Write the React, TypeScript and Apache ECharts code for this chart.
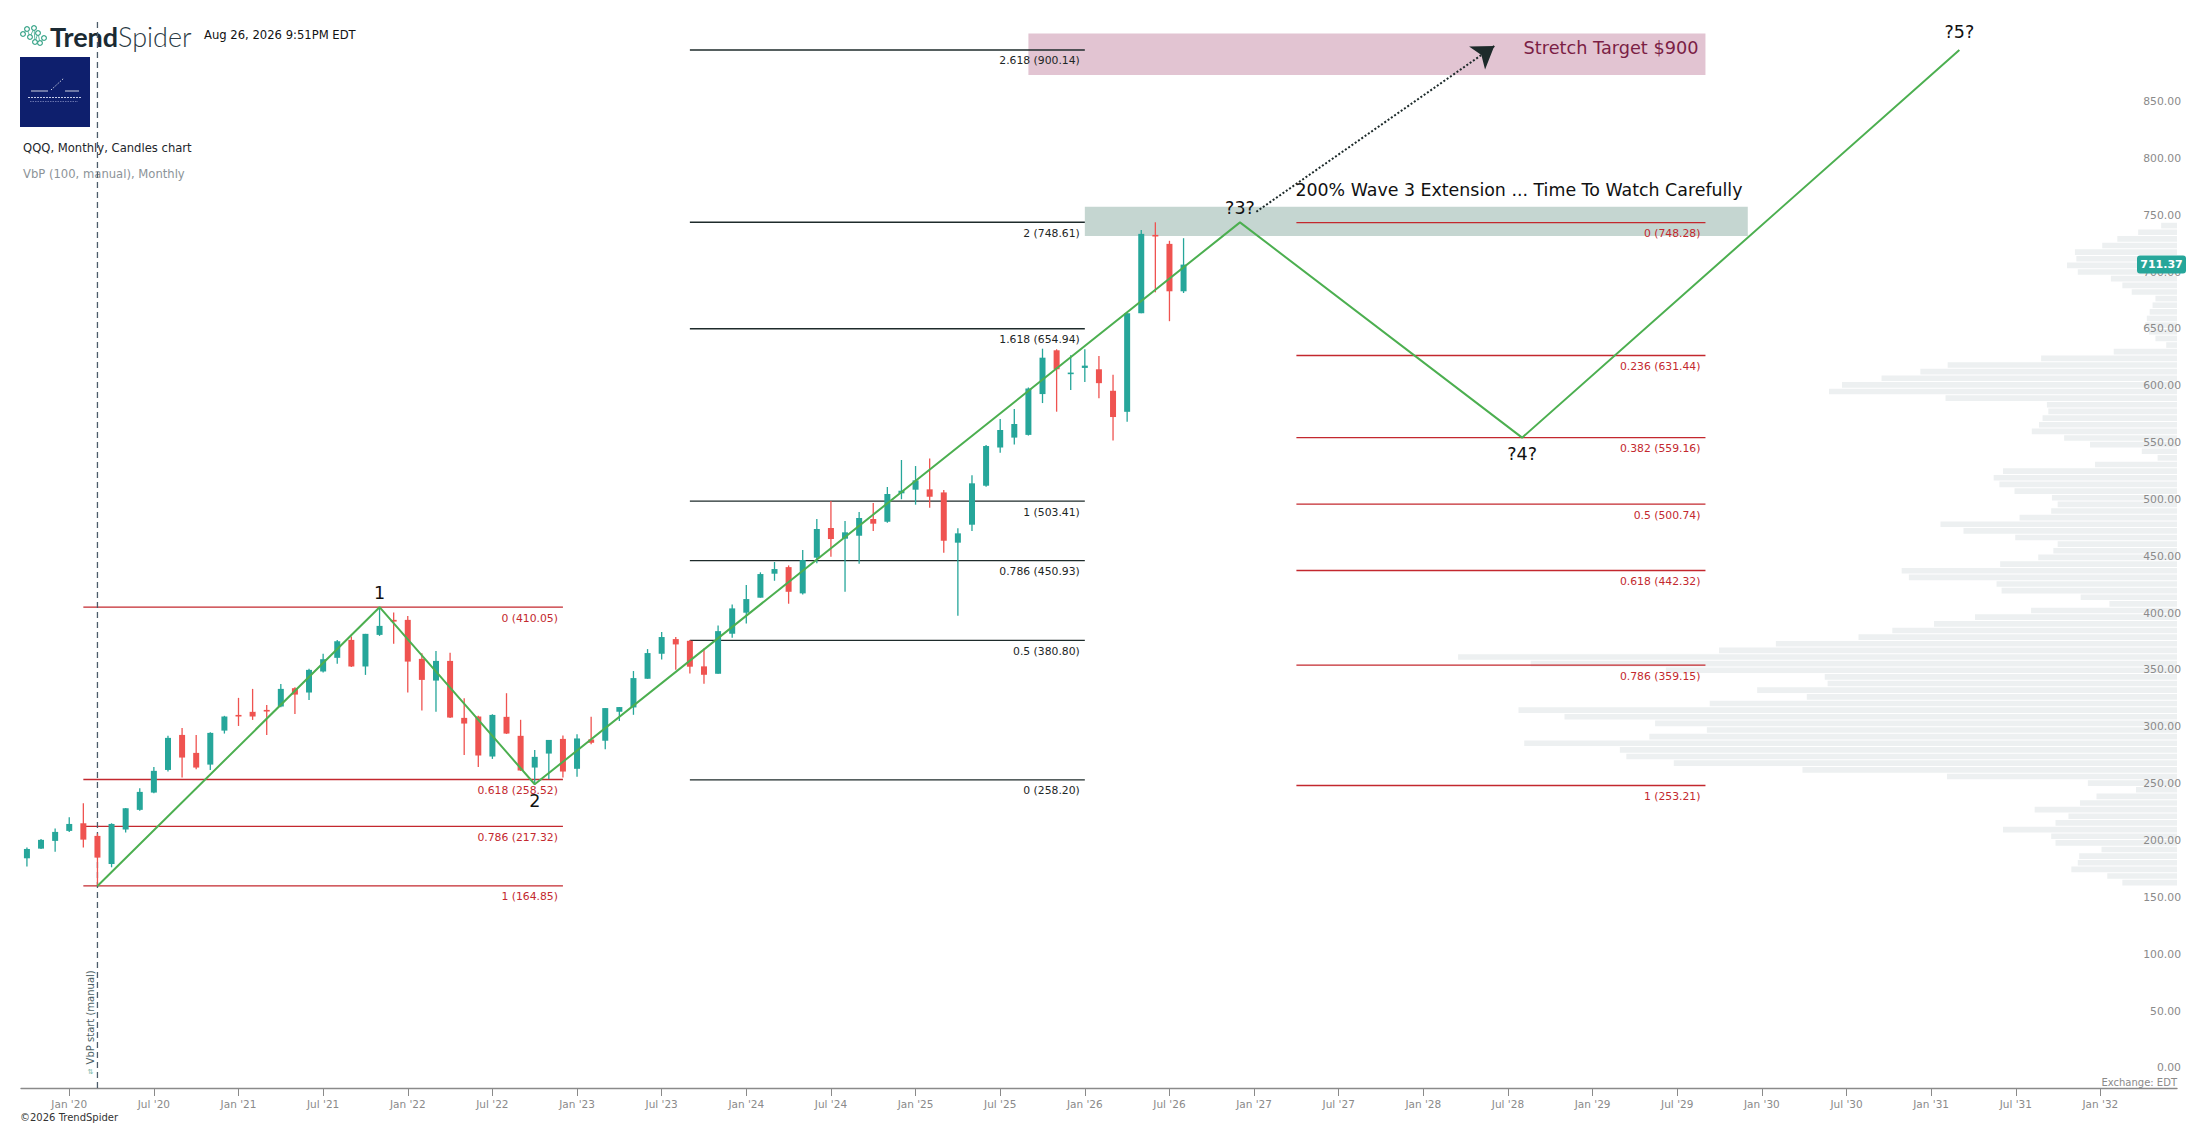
import React, { useEffect, useRef } from "react";
import * as echarts from "echarts";

// ---------- DATA ----------
// month index: 0 = Jan 2020 ; first candle = Oct 2019
const firstMonth = -3;
const opens = [189.2, 197.7, 204.5, 213.3, 220.0, 208.9, 184.2, 214.5, 231.8, 247.0, 266.9, 297.7, 281.9, 271.6, 301.5, 315.3, 318.0, 319.7, 322.7, 338.8, 335.0, 353.5, 365.5, 381.3, 357.9, 385.7, 398.9, 398.9, 364.6, 345.5, 362.8, 312.7, 313.9, 278.7, 313.6, 296.9, 269.0, 281.3, 294.2, 267.9, 293.7, 292.6, 318.1, 321.9, 347.1, 369.1, 382.0, 380.5, 358.0, 351.5, 386.7, 405.2, 418.4, 439.5, 445.3, 422.2, 453.6, 479.7, 470.3, 472.9, 487.6, 485.2, 510.2, 513.4, 513.7, 511.0, 466.8, 482.6, 516.9, 550.5, 559.2, 561.6, 597.5, 636.0, 615.0, 620.5, 619.3, 600.4, 581.9, 668.6, 737.5, 729.6, 687.9];
const highs = [198.6, 206.2, 215.3, 225.3, 237.6, 211.0, 220.0, 233.5, 250.8, 269.6, 296.9, 303.9, 297.7, 300.0, 314.5, 330.3, 338.2, 324.1, 342.6, 339.7, 355.8, 369.0, 381.3, 384.2, 386.6, 410.05, 405.4, 402.4, 369.6, 371.6, 369.9, 330.0, 314.5, 315.9, 334.4, 311.0, 284.5, 293.3, 297.1, 298.4, 313.7, 321.3, 322.2, 353.9, 373.2, 388.2, 383.8, 381.1, 373.8, 394.0, 412.5, 429.5, 440.7, 449.8, 446.8, 460.3, 487.6, 503.4, 485.8, 493.7, 501.7, 515.7, 539.5, 534.2, 540.9, 513.1, 479.4, 526.0, 552.7, 575.6, 584.3, 603.3, 637.4, 636.9, 631.6, 636.9, 631.0, 614.4, 668.6, 741.9, 748.6, 732.3, 734.6];
const lows = [181.9, 197.4, 195.0, 212.4, 198.6, 164.85, 181.3, 211.8, 231.0, 246.5, 265.5, 260.2, 267.5, 266.9, 298.9, 305.6, 310.9, 297.7, 322.1, 316.2, 328.5, 352.6, 360.2, 357.5, 350.5, 384.8, 377.8, 335.0, 319.1, 318.0, 312.5, 280.1, 269.6, 276.6, 298.5, 266.0, 254.3, 259.0, 260.2, 260.9, 289.6, 285.2, 309.9, 315.4, 347.1, 364.1, 355.0, 351.8, 342.7, 351.5, 383.2, 395.8, 418.4, 433.3, 413.1, 421.3, 448.6, 454.4, 423.6, 448.3, 477.0, 484.4, 505.0, 500.2, 497.5, 458.0, 402.5, 477.0, 516.0, 545.8, 553.1, 561.0, 589.6, 582.0, 601.0, 608.2, 593.9, 556.6, 573.2, 668.6, 687.0, 661.6, 686.4];
const closes = [197.4, 205.4, 212.4, 219.4, 205.6, 189.8, 219.4, 233.2, 247.6, 266.1, 295.1, 277.8, 269.0, 299.5, 313.9, 313.9, 313.9, 318.3, 338.2, 333.2, 354.9, 364.3, 380.1, 357.9, 386.6, 393.6, 397.4, 362.2, 346.1, 362.8, 313.0, 307.7, 279.6, 315.3, 298.9, 266.4, 278.4, 293.3, 265.5, 294.6, 290.8, 321.3, 322.2, 347.7, 369.7, 383.8, 377.3, 357.7, 350.6, 389.0, 409.0, 417.2, 439.2, 443.6, 423.6, 451.5, 478.8, 470.0, 475.9, 488.5, 483.5, 509.6, 512.5, 521.6, 507.2, 468.5, 475.0, 519.0, 551.8, 565.9, 571.2, 602.4, 629.5, 619.3, 616.4, 622.5, 607.1, 577.3, 668.6, 738.4, 736.1, 687.9, 711.37];

// x tick labels (every 6 months)
const tickMonths = [0, 6, 12, 18, 24, 30, 36, 42, 48, 54, 60, 66, 72, 78, 84, 90, 96, 102, 108, 114, 120, 126, 132, 138, 144];
const tickLabels = ["Jan '20", "Jul '20", "Jan '21", "Jul '21", "Jan '22", "Jul '22", "Jan '23", "Jul '23", "Jan '24", "Jul '24", "Jan '25", "Jul '25", "Jan '26", "Jul '26", "Jan '27", "Jul '27", "Jan '28", "Jul '28", "Jan '29", "Jul '29", "Jan '30", "Jul '30", "Jan '31", "Jul '31", "Jan '32"];
const priceTicks = [0, 50, 100, 150, 200, 250, 300, 350, 400, 450, 500, 550, 600, 650, 700, 750, 800, 850];

// Fibonacci groups
const fibAStart = 1, fibAEnd = 35;
const fibAValues = [410.05, 258.52, 217.32, 164.85];
const fibALabels = ["0 (410.05)", "0.618 (258.52)", "0.786 (217.32)", "1 (164.85)"];
const fibBStart = 44, fibBEnd = 72;
const fibBValues = [258.2, 380.8, 450.93, 503.41, 654.94, 748.61, 900.14];
const fibBLabels = ["0 (258.20)", "0.5 (380.80)", "0.786 (450.93)", "1 (503.41)", "1.618 (654.94)", "2 (748.61)", "2.618 (900.14)"];
const fibCStart = 87, fibCEnd = 116;
const fibCValues = [748.28, 631.44, 559.16, 500.74, 442.32, 359.15, 253.21];
const fibCLabels = ["0 (748.28)", "0.236 (631.44)", "0.382 (559.16)", "0.5 (500.74)", "0.618 (442.32)", "0.786 (359.15)", "1 (253.21)"];

// Elliott wave path
const waveMonths = [2, 22, 33, 83, 103, 134];
const waveValues = [164.85, 410.05, 254.3, 748.5, 559.16, 900.14];
const waveLabels = ["", "1", "2", "?3?", "?4?", "?5?"];

// zones [startMonth, endMonth, low, high]
const zoneStretch = [68, 116, 878.1, 914.7];
const zoneWave3 = [72, 119, 736.5, 762.3];

// arrow (month, price)
const arrowFrom = [84.16, 757.9];
const arrowTo = [101.03, 903.6];

// notes
const noteTexts = ["200% Wave 3 Extension ... Time To Watch Carefully", "Stretch Target $900"];
const noteMonths = [86.93, 115.5];
const noteValues = [777.0, 901.6];

// VbP start
const vbpStartMonth = 2;
const vbpLow = 164.85;
const vbpHigh = 748.61;
// relative volume per price bin (100 bins, low -> high), % of max
const vbpVolumes = [7.6, 9.7, 14.7, 13.8, 13.6, 10.5, 16.9, 17.5, 24.2, 16.9, 15.1, 19.8, 13.5, 11.2, 5.7, 12.4, 32.0, 52.1, 70.0, 76.6, 77.5, 90.8, 73.4, 65.4, 72.6, 85.2, 91.6, 65.0, 51.5, 58.4, 48.6, 49.0, 71.1, 89.9, 100, 63.7, 55.8, 44.3, 39.6, 33.8, 28.1, 20.3, 9.4, 13.4, 24.4, 25.1, 37.3, 38.3, 24.6, 19.3, 17.2, 16.6, 22.5, 29.7, 32.9, 21.9, 17.5, 16.6, 17.4, 22.6, 24.7, 25.5, 24.2, 11.4, 2.7, 4.9, 12.1, 15.7, 20.2, 19.2, 18.7, 17.9, 18.1, 32.2, 48.4, 46.6, 41.1, 35.7, 31.9, 18.9, 8.8, 1.5, 3.0, 3.9, 4.4, 4.2, 3.8, 3.4, 3.0, 6.3, 7.6, 9.2, 13.8, 15.3, 14.0, 14.2, 10.4, 8.3, 5.4, 2.2];

const lastPrice = 711.37;

// ---------- STYLE ----------
const GREEN = "#26a69a";
const RED = "#ef5350";
const FIB_RED = "#c3282e";
const FIB_DARK = "#1e2b2b";
const FONT = '"DejaVu Sans", sans-serif';

const X_MIN = -3.42, X_MAX = 149.43, Y_MIN = -12.84, Y_MAX = 944.1;

function fibSeries(start: number, end: number, values: number[], labels: string[], color: string, textColor: string) {
  return {
    type: "custom",
    xAxisIndex: 0,
    yAxisIndex: 0,
    z: 3,
    silent: true,
    data: values.map((v) => [start, end, v]),
    renderItem: (params: any, api: any) => {
      const p0 = api.coord([api.value(0), api.value(2)]);
      const p1 = api.coord([api.value(1), api.value(2)]);
      return {
        type: "group",
        children: [
          { type: "line", shape: { x1: p0[0], y1: p0[1], x2: p1[0], y2: p1[1] }, style: { stroke: color, lineWidth: 1.3 } },
          {
            type: "text",
            x: p1[0] - 5,
            y: p1[1] + 11,
            style: { text: labels[params.dataIndex], fill: textColor, fontSize: 10.8, fontFamily: FONT, align: "right", verticalAlign: "middle" },
          },
        ],
      };
    },
  };
}

export default function App() {
  const ref = useRef<HTMLDivElement>(null);

  useEffect(() => {
    document.body.style.margin = "0";
    const chart = echarts.init(ref.current!, null, { renderer: "svg" });

    const candleData = closes.map((c, i) => [firstMonth + i, opens[i], c, lows[i], highs[i]]);
    const step = (vbpHigh - vbpLow) / vbpVolumes.length;
    const volMax = 2156 / 7.189;

    const logoNodes = [[23, 34], [27, 29], [30, 37], [34, 28], [35, 42], [38, 33], [40, 43], [44, 38]];

    const option: any = {
      animation: false,
      backgroundColor: "#ffffff",
      grid: { left: 21, right: 30, top: 0, bottom: 46 },
      xAxis: [
        {
          type: "value",
          min: X_MIN,
          max: X_MAX,
          position: "bottom",
          splitLine: { show: false },
          axisLine: { onZero: false, lineStyle: { color: "#8a8a8a", width: 1.4 } },
          axisTick: { show: true, customValues: tickMonths, length: 8, lineStyle: { color: "#8a8a8a" } },
          axisLabel: {
            customValues: tickMonths,
            formatter: (v: number) => tickLabels[tickMonths.indexOf(Math.round(v))] || "",
            color: "#8a8a8a",
            fontSize: 10.5,
            fontFamily: FONT,
            margin: 10,
          },
        },
        { type: "value", min: 0, max: volMax, inverse: true, show: false },
      ],
      yAxis: [
        {
          type: "value",
          min: Y_MIN,
          max: Y_MAX,
          position: "right",
          z: 4,
          splitLine: { show: false },
          axisLine: { show: false },
          axisTick: { show: false },
          axisLabel: {
            inside: true,
            margin: -4,
            customValues: priceTicks,
            formatter: (v: number) => v.toFixed(2),
            color: "#8a8a8a",
            fontSize: 10.8,
            fontFamily: FONT,
            verticalAlign: "bottom",
          },
        },
      ],
      graphic: [
        // TrendSpider logo nodes
        ...logoNodes.slice(0, -1).map((n, i) => ({
          type: "line",
          shape: { x1: n[0], y1: n[1], x2: logoNodes[i + 1][0], y2: logoNodes[i + 1][1] },
          style: { stroke: "#3aa58a", lineWidth: 0.8 },
        })),
        ...logoNodes.map((n) => ({ type: "circle", shape: { cx: n[0], cy: n[1], r: 2.4 }, style: { fill: "#fff", stroke: "#3aa58a", lineWidth: 1.2 } })),
        {
          type: "text",
          x: 50,
          y: 36,
          style: {
            text: "{a|Trend}{b|Spider}",
            verticalAlign: "middle",
            rich: {
              a: { fontSize: 27, fontWeight: "bold", fill: "#1b2a33", fontFamily: "Lato, sans-serif" },
              b: { fontSize: 27, fontWeight: 300, fill: "#2a3a44", fontFamily: "Lato, sans-serif" },
            },
          },
        },
        { type: "text", x: 204, y: 35, style: { text: "Aug 26, 2026 9:51PM EDT", fill: "#111", fontSize: 11.6, fontFamily: FONT, verticalAlign: "middle" } },
        // blue avatar
        { type: "rect", shape: { x: 20, y: 57, width: 70, height: 70 }, style: { fill: "#0e1f6d" } },
        { type: "line", shape: { x1: 31, y1: 91, x2: 48, y2: 91 }, style: { stroke: "#fff", lineWidth: 0.8 } },
        { type: "line", shape: { x1: 65, y1: 91, x2: 79, y2: 91 }, style: { stroke: "#fff", lineWidth: 0.8 } },
        { type: "line", shape: { x1: 51, y1: 90, x2: 64, y2: 78 }, style: { stroke: "#fff", lineWidth: 0.8, lineDash: [1.5, 1.5] } },
        { type: "line", shape: { x1: 28, y1: 97.5, x2: 82, y2: 97.5 }, style: { stroke: "#c8cde8", lineWidth: 1, lineDash: [2, 1] } },
        { type: "line", shape: { x1: 30, y1: 101.5, x2: 78, y2: 101.5 }, style: { stroke: "#8e97c8", lineWidth: 0.7, lineDash: [1.5, 1] } },
        { type: "text", x: 23, y: 148, style: { text: "QQQ, Monthly, Candles chart", fill: "#1d262b", fontSize: 11.6, fontFamily: FONT, verticalAlign: "middle" } },
        { type: "text", x: 23, y: 174, style: { text: "VbP (100, manual), Monthly", fill: "#8c9398", fontSize: 11.6, fontFamily: FONT, verticalAlign: "middle" } },
        { type: "text", x: 20, y: 1117, style: { text: "©2026 TrendSpider", fill: "#333", fontSize: 10, fontFamily: FONT, verticalAlign: "middle" } },
        { type: "text", x: 2177, y: 1082, style: { text: "Exchange: EDT", fill: "#8a8a8a", fontSize: 10, fontFamily: FONT, align: "right", verticalAlign: "middle" } },
      ],
      series: [
        // Volume by price
        {
          type: "custom",
          xAxisIndex: 1,
          yAxisIndex: 0,
          z: 1,
          silent: true,
          data: vbpVolumes.map((v, k) => [v, k]),
          renderItem: (params: any, api: any) => {
            const vol = api.value(0);
            const k = api.value(1);
            const lo = vbpLow + k * step;
            const hi = lo + step;
            const pTop = api.coord([vol, hi]);
            const pBase = api.coord([0, lo]);
            return {
              type: "rect",
              shape: { x: pTop[0], y: pTop[1] + 0.5, width: pBase[0] - pTop[0], height: pBase[1] - pTop[1] - 1 },
              style: { fill: "#edf0f1" },
            };
          },
        },
        // zones
        {
          type: "custom",
          z: 2,
          silent: true,
          data: [zoneStretch, zoneWave3],
          renderItem: (params: any, api: any) => {
            const a = api.coord([api.value(0), api.value(3)]);
            const b = api.coord([api.value(1), api.value(2)]);
            return {
              type: "rect",
              shape: { x: a[0], y: a[1], width: b[0] - a[0], height: b[1] - a[1] },
              style: { fill: params.dataIndex === 0 ? "#e2c4d2" : "#c5d6d1" },
            };
          },
        },
        fibSeries(fibAStart, fibAEnd, fibAValues, fibALabels, FIB_RED, FIB_RED),
        fibSeries(fibBStart, fibBEnd, fibBValues, fibBLabels, FIB_DARK, "#1d2626"),
        fibSeries(fibCStart, fibCEnd, fibCValues, fibCLabels, FIB_RED, FIB_RED),
        // VbP start marker
        {
          type: "line",
          z: 4,
          silent: true,
          symbol: "none",
          data: [[vbpStartMonth, Y_MIN], [vbpStartMonth, 926]],
          lineStyle: { color: "#4c5c6a", width: 1.3, type: [6, 4] },
        },
        {
          type: "custom",
          z: 4,
          silent: true,
          data: [[vbpStartMonth, 0]],
          renderItem: (params: any, api: any) => {
            const p = api.coord([api.value(0), api.value(1)]);
            return {
              type: "group",
              children: [
                { type: "text", x: p[0] - 7, y: p[1] - 9, rotation: Math.PI / 2, style: { text: "VbP start (manual)", fill: "#4d5f66", fontSize: 10, fontFamily: FONT, align: "left", verticalAlign: "middle" } },
                { type: "text", x: p[0] - 7, y: p[1] - 1, style: { text: "⇅", fill: "#7ab8a6", fontSize: 7, fontFamily: FONT, align: "center", verticalAlign: "middle" } },
              ],
            };
          },
        },
        // candles
        {
          type: "custom",
          z: 5,
          silent: true,
          data: candleData,
          renderItem: (params: any, api: any) => {
            const m = api.value(0);
            const o = api.value(1), c = api.value(2), l = api.value(3), h = api.value(4);
            const po = api.coord([m, o]);
            const pc = api.coord([m, c]);
            const pl = api.coord([m, l]);
            const ph = api.coord([m, h]);
            const color = c >= o ? GREEN : RED;
            const w = 6;
            const top = Math.min(po[1], pc[1]);
            const bh = Math.max(Math.abs(po[1] - pc[1]), 1.6);
            return {
              type: "group",
              children: [
                { type: "line", shape: { x1: po[0], y1: ph[1], x2: po[0], y2: pl[1] }, style: { stroke: color, lineWidth: 1.3 } },
                { type: "rect", shape: { x: po[0] - w / 2, y: top, width: w, height: bh }, style: { fill: color } },
              ],
            };
          },
        },
        // wave path
        {
          type: "line",
          z: 6,
          silent: true,
          symbol: "none",
          data: waveMonths.map((m, i) => [m, waveValues[i]]),
          lineStyle: { color: "#4caf50", width: 2 },
        },
        // arrow
        {
          type: "lines",
          coordinateSystem: "cartesian2d",
          z: 7,
          silent: true,
          symbol: ["none", "arrow"],
          symbolSize: 21,
          data: [{ coords: [arrowFrom, arrowTo] }],
          lineStyle: { type: "dotted", width: 2, color: "#1d2a2a", opacity: 1, curveness: 0 },
        },
        // wave labels
        {
          type: "custom",
          z: 8,
          silent: true,
          data: waveMonths.map((m, i) => [m, waveValues[i]]),
          renderItem: (params: any, api: any) => {
            const i = params.dataIndex;
            if (!waveLabels[i]) return null;
            const p = api.coord([api.value(0), api.value(1)]);
            const dy = [0, -14, 17, -14, 16, -18][i];
            return {
              type: "text",
              x: p[0],
              y: p[1] + dy,
              style: { text: waveLabels[i], fill: "#111", fontSize: 17.5, fontFamily: FONT, align: "center", verticalAlign: "middle" },
            };
          },
        },
        // notes
        {
          type: "custom",
          z: 8,
          silent: true,
          data: noteMonths.map((m, i) => [m, noteValues[i]]),
          renderItem: (params: any, api: any) => {
            const i = params.dataIndex;
            const p = api.coord([api.value(0), api.value(1)]);
            return {
              type: "text",
              x: p[0],
              y: p[1],
              style: {
                text: noteTexts[i],
                fill: i === 0 ? "#111" : "#7b1e45",
                fontSize: i === 0 ? 17.4 : 17.7,
                fontFamily: FONT,
                align: i === 0 ? "left" : "right",
                verticalAlign: "middle",
              },
            };
          },
        },
        // last price badge
        {
          type: "custom",
          z: 9,
          silent: true,
          data: [[X_MAX, lastPrice]],
          renderItem: (params: any, api: any) => {
            const p = api.coord([api.value(0), api.value(1)]);
            return {
              type: "group",
              children: [
                { type: "rect", shape: { x: p[0] - 40, y: p[1] - 9, width: 49, height: 18, r: 3 }, style: { fill: GREEN } },
                { type: "text", x: p[0] - 15.5, y: p[1], style: { text: lastPrice.toFixed(2), fill: "#fff", fontSize: 11, fontWeight: "bold", fontFamily: FONT, align: "center", verticalAlign: "middle" } },
              ],
            };
          },
        },
      ],
    };

    chart.setOption(option);
    return () => chart.dispose();
  }, []);

  return <div ref={ref} style={{ position: "fixed", left: 0, top: 0, width: "100vw", height: "100vh" }} />;
}
